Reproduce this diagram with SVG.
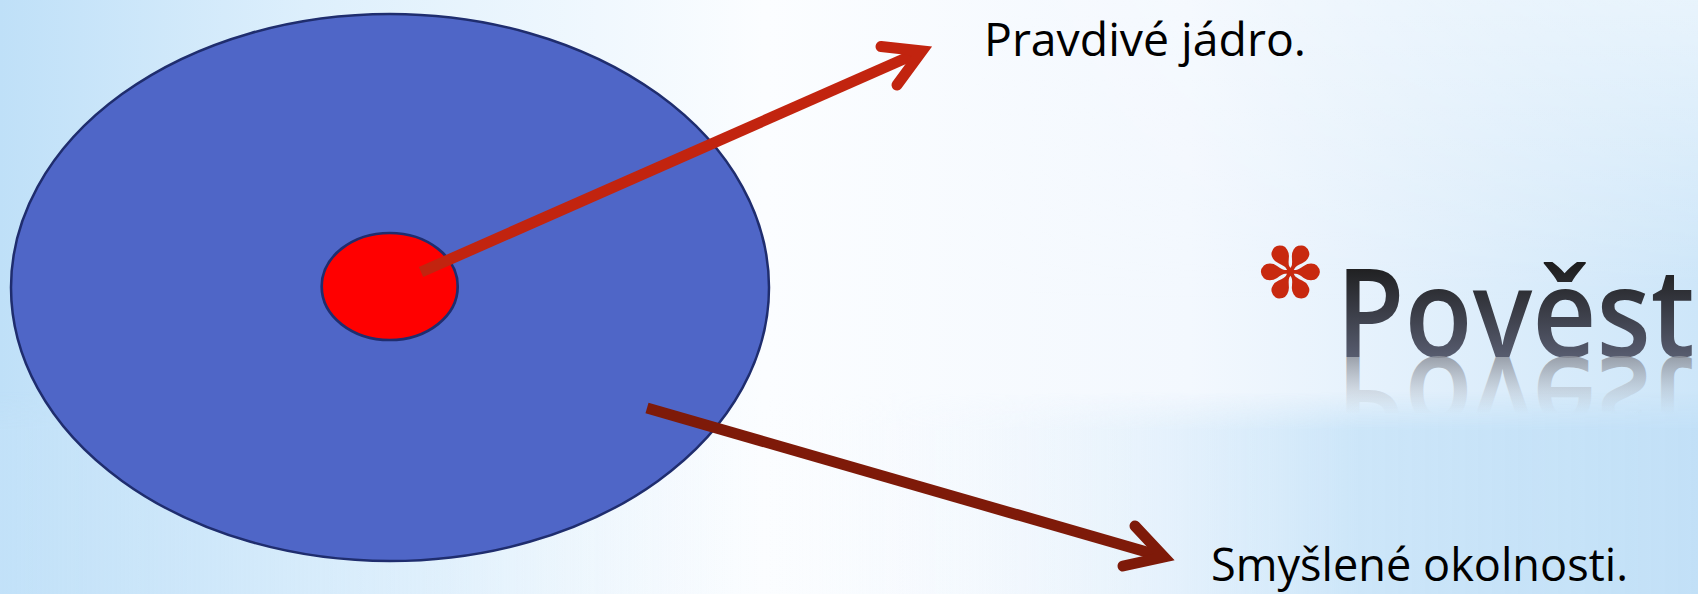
<svg xmlns="http://www.w3.org/2000/svg" xmlns:xlink="http://www.w3.org/1999/xlink" width="1698" height="594" viewBox="0 0 1698 594">
  <defs>
    <linearGradient id="bgH" x1="0" y1="0" x2="1698" y2="0" gradientUnits="userSpaceOnUse">
      <stop offset="0" stop-color="#bfe0f8"/>
      <stop offset="0.18" stop-color="#ddeffc"/>
      <stop offset="0.45" stop-color="#fbfdff"/>
      <stop offset="0.7" stop-color="#f3f8fe"/>
      <stop offset="1" stop-color="#cde6f9"/>
    </linearGradient>
    <linearGradient id="topFade" x1="0" y1="0" x2="0" y2="300" gradientUnits="userSpaceOnUse">
      <stop offset="0" stop-color="#ffffff" stop-opacity="0.55"/>
      <stop offset="1" stop-color="#ffffff" stop-opacity="0"/>
    </linearGradient>
    <linearGradient id="rightMaskH" x1="0" y1="0" x2="1698" y2="0" gradientUnits="userSpaceOnUse">
      <stop offset="0.55" stop-color="#fff" stop-opacity="0"/>
      <stop offset="1" stop-color="#fff" stop-opacity="1"/>
    </linearGradient>
    <mask id="rightMask">
      <rect x="0" y="0" width="1698" height="594" fill="url(#rightMaskH)"/>
    </mask>
    <linearGradient id="bandH" x1="0" y1="0" x2="1698" y2="0" gradientUnits="userSpaceOnUse">
      <stop offset="0" stop-color="#c2e1f8" stop-opacity="0.9"/>
      <stop offset="0.25" stop-color="#d8ecfb" stop-opacity="0.5"/>
      <stop offset="0.45" stop-color="#ffffff" stop-opacity="0"/>
      <stop offset="0.6" stop-color="#e6f2fc" stop-opacity="0.3"/>
      <stop offset="0.8" stop-color="#c9e4f8" stop-opacity="0.9"/>
      <stop offset="1" stop-color="#c2e0f7" stop-opacity="1"/>
    </linearGradient>
    <linearGradient id="rampV" x1="0" y1="392" x2="0" y2="430" gradientUnits="userSpaceOnUse">
      <stop offset="0" stop-color="#fff" stop-opacity="0"/>
      <stop offset="1" stop-color="#fff" stop-opacity="1"/>
    </linearGradient>
    <mask id="bandMask">
      <rect x="0" y="380" width="1698" height="214" fill="url(#rampV)"/>
    </mask>
    <linearGradient id="titleFill" x1="0" y1="262" x2="0" y2="357" gradientUnits="userSpaceOnUse">
      <stop offset="0" stop-color="#1c1c1c"/>
      <stop offset="1" stop-color="#575c6f"/>
    </linearGradient>
    <linearGradient id="reflFill" x1="0" y1="357" x2="0" y2="300" gradientUnits="userSpaceOnUse">
      <stop offset="0" stop-color="#8d929c" stop-opacity="0.85"/>
      <stop offset="1" stop-color="#b8bcc4" stop-opacity="0"/>
    </linearGradient>
    <text id="titleText" class="title" x="1336" y="357" textLength="359" lengthAdjust="spacingAndGlyphs">Pověst</text>
  </defs>
  <style>
    .lbl { font-family: "Open Sans", "Liberation Sans", sans-serif; font-size: 45px; fill: #000; }
    .title { font-family: "Open Sans", "Liberation Sans", sans-serif; font-size: 124px; font-weight: 600; }
    .shaft { fill: none; stroke-width: 11; stroke-linecap: butt; }
    .head { fill: none; stroke-width: 11; stroke-linecap: round; stroke-linejoin: miter; stroke-miterlimit: 10; }
  </style>

  <g id="background">
    <rect x="0" y="0" width="1698" height="594" fill="url(#bgH)"/>
    <rect x="0" y="0" width="1698" height="300" fill="url(#topFade)" mask="url(#rightMask)"/>
    <rect x="0" y="380" width="1698" height="214" fill="url(#bandH)" mask="url(#bandMask)"/>
  </g>

  <g id="node-outer">
    <ellipse cx="390" cy="287.5" rx="379" ry="273.5" fill="#4f66c7" stroke="#1f2d6e" stroke-width="2.5"/>
  </g>
  <g id="node-inner">
    <ellipse cx="389.7" cy="286.5" rx="68" ry="53.5" fill="#ff0000" stroke="#1f2d6e" stroke-width="2.7"/>
  </g>

  <g id="connectors">
    <g id="arrow-core" stroke="#c2240f">
      <path class="shaft" d="M421,272 L922,51"/>
      <path class="head" d="M881,46.5 L922,51 L897,85"/>
    </g>
    <g id="arrow-fiction" stroke="#7e1a09">
      <path class="shaft" d="M647,408 L1164,557"/>
      <path class="head" d="M1135,526 L1164,557 L1123,566"/>
    </g>
  </g>

  <g id="label-core">
    <text class="lbl" x="984" y="56" textLength="322" lengthAdjust="spacingAndGlyphs">Pravdivé jádro.</text>
  </g>
  <g id="label-fiction">
    <text class="lbl" x="1211" y="581" textLength="417" lengthAdjust="spacingAndGlyphs">Smyšlené okolnosti.</text>
  </g>

  <g id="title">
    <text x="1289" y="272" font-family="DejaVu Sans, sans-serif" font-size="78" fill="#c8290f" text-anchor="middle" dominant-baseline="central" transform="rotate(90 1289 272)">✽</text>
    <use xlink:href="#titleText" href="#titleText" fill="url(#titleFill)"/>
    <use xlink:href="#titleText" href="#titleText" fill="url(#reflFill)" transform="translate(0 714) scale(1 -1)"/>
  </g>
</svg>
